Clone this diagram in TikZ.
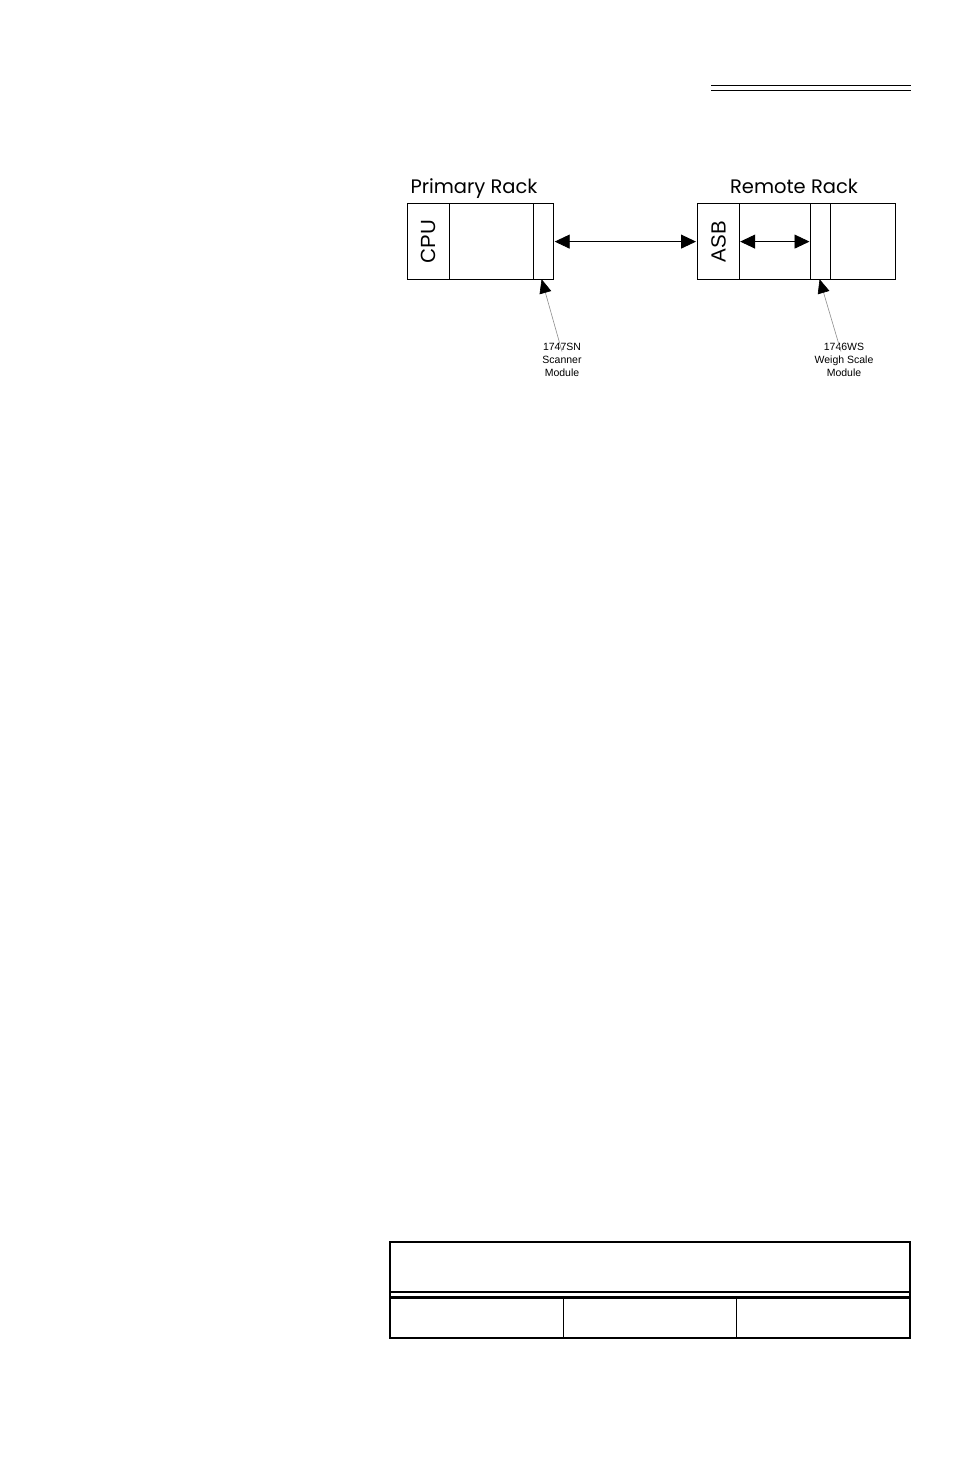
\documentclass[tikz,border=0pt]{standalone}
\usepackage{fontspec}
\setmainfont{Liberation Sans}
\newfontfamily\geo{Poppins}
\usetikzlibrary{arrows.meta,calc}
\begin{document}
\begin{tikzpicture}[x=1pt,y=-1pt,
  rackbox/.style={draw,line width=1.2pt,inner sep=0pt,anchor=north west,minimum height=76pt},
  link/.style={line width=0.9pt,{Triangle[length=15pt,width=14pt]}-{Triangle[length=15pt,width=14pt]},shorten <=0.5pt,shorten >=0.5pt},
  pointer/.style={draw=black!45,line width=0.6pt,-{Triangle[length=14pt,width=12pt,color=black,fill=black]}},
  lab/.style={font=\fontsize{10.5}{13.3}\selectfont,align=center,inner sep=0pt,anchor=north},
  title/.style={font=\geo\fontsize{19.5}{22}\selectfont,anchor=base,inner sep=0pt},
  vlab/.style={font=\fontsize{20.5}{22}\selectfont,rotate=90,inner sep=0pt},
  rule/.style={line width=1.5pt},
  tbl/.style={line width=1.3pt},
  thick rule/.style={line width=2.8pt}]
\useasboundingbox (0,0) rectangle (954,1475);
% top header double rule
\draw[rule] (711,85.3) -- (910.7,85.3);
\draw[rule] (711,90.3) -- (910.7,90.3);
% titles
\node[title] (ptitle) at (474,193) {Primary Rack};
\node[title] (rtitle) at (794,193) {Remote Rack};
% primary rack
\node[rackbox,minimum width=42pt] (cpu) at (406.5,203) {};
\node[rackbox,minimum width=84.5pt] (pmid) at (448.5,203) {};
\node[rackbox,minimum width=20pt] (sn) at (533,203) {};
\node[vlab] (cputext) at (cpu.center) {CPU};
% remote rack
\node[rackbox,minimum width=42pt] (asb) at (696.5,203) {};
\node[rackbox,minimum width=71.5pt] (rmid) at (738.5,203) {};
\node[rackbox,minimum width=20pt] (ws) at (810,203) {};
\node[rackbox,minimum width=65pt] (rend) at (830,203) {};
\node[vlab] (asbtext) at ([xshift=0.5pt]asb.center) {ASB};
% links
\draw[link] (sn.east) -- (asb.west);
\draw[link] (asb.east) -- (ws.west);
% module labels
\node[lab] (snlab) at (562,342.5) {1747SN\\Scanner\\Module};
\node[lab] (wslab) at (844,342.5) {1746WS\\Weigh Scale\\Module};
\draw[pointer] ([yshift=-9pt]snlab.north) -- ([xshift=-2pt,yshift=1pt]sn.south);
\draw[pointer] ([yshift=-9pt,xshift=-3pt]wslab.north) -- ([xshift=-1pt,yshift=1pt]ws.south);
% table
\draw[tbl] (390,1242) rectangle (910,1338);
\draw[thick rule] (390,1292) -- (910,1292);
\draw[thick rule] (390,1297.5) -- (910,1297.5);
\draw[tbl] (563.3,1297.5) -- (563.3,1338);
\draw[tbl] (736.7,1297.5) -- (736.7,1338);
\end{tikzpicture}
\end{document}
